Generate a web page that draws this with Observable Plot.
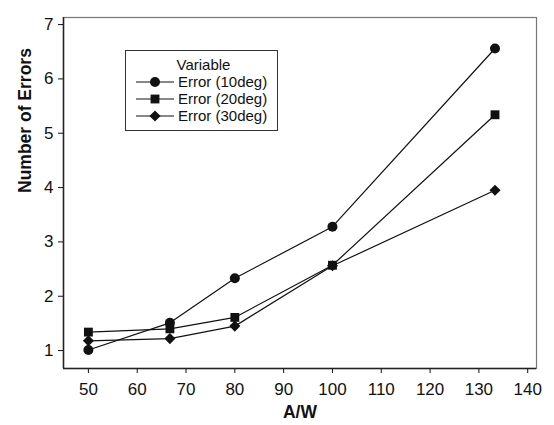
<!DOCTYPE html>
<html>
<head>
<meta charset="utf-8">
<script src="https://cdn.jsdelivr.net/npm/d3@7"></script>
<script src="https://cdn.jsdelivr.net/npm/@observablehq/plot@0.6"></script>
<style>
  body { margin: 0; background: #fff; }
  #wrap { position: relative; width: 554px; height: 425px; font-family: "Liberation Sans", Arial, sans-serif; }
  #legend { position: absolute; left: 125px; top: 50px; width: 153px; height: 81px; border: 1px solid #333; background: #fff; font-size: 15px; color: #111; box-sizing: border-box; }
  #legend .title { text-align: center; margin-top: 5px; padding-left: 4px; line-height: 17px; }
  #legend .row { display: flex; align-items: center; height: 17px; }
  #legend svg { margin-left: 10px; margin-right: 4px; }
</style>
</head>
<body>
<div id="wrap"></div>
<script>
const aw = [50, 66.7, 80, 100, 133.3];
const series = ["Error (10deg)", "Error (20deg)", "Error (30deg)"];
const err10 = [1.01, 1.51, 2.33, 3.28, 6.56];
const err20 = [1.34, 1.40, 1.61, 2.57, 5.34];
const err30 = [1.18, 1.22, 1.45, 2.56, 3.95];
const symbols = ["circle", "square", "diamond2"];
const xTicks = [50, 60, 70, 80, 90, 100, 110, 120, 130, 140];
const yTicks = [1, 2, 3, 4, 5, 6, 7];

const vals = [err10, err20, err30];
const data = [];
series.forEach((s, i) => aw.forEach((x, j) => data.push({series: s, aw: x, n: vals[i][j]})));

const chart = Plot.plot({
  width: 554,
  height: 425,
  marginLeft: 63,
  marginRight: 18,
  marginTop: 17,
  marginBottom: 57,
  style: {fontFamily: "'Liberation Sans', Arial, sans-serif", fontSize: "17px", color: "#111", background: "#fff"},
  x: {domain: [44.9, 141.8], label: null},
  y: {domain: [0.67, 7.13], label: null},
  symbol: {domain: series, range: symbols},
  marks: [
    Plot.frame({stroke: "#777", strokeWidth: 1.2}),
    Plot.axisX({ticks: xTicks, tickSize: 5, tickPadding: 9, fontSize: 17, tickFormat: "d", label: null}),
    Plot.axisY({ticks: yTicks, tickSize: 5, tickPadding: 5, fontSize: 17, tickFormat: "d", label: null}),
    Plot.ruleY([0.67], {stroke: "#222", strokeWidth: 1.5}),
    Plot.ruleX([44.9], {stroke: "#222", strokeWidth: 1.5}),
    Plot.line(data, {x: "aw", y: "n", z: "series", stroke: "#111", strokeWidth: 1.2}),
    Plot.dot(data, {x: "aw", y: "n", symbol: "series", fill: "#111", stroke: "none", r: 5}),
    Plot.text(["A/W"], {frameAnchor: "bottom", dy: 49, text: d => d, fontWeight: "bold", fontSize: 17.5}),
    Plot.text(["Number of Errors"], {frameAnchor: "left", dx: -38, rotate: -90, text: d => d, fontWeight: "bold", fontSize: 17.5})
  ]
});
const wrap = document.getElementById("wrap");
wrap.appendChild(chart);

// legend
const leg = document.createElement("div");
leg.id = "legend";
const t = document.createElement("div");
t.className = "title";
t.textContent = "Variable";
leg.appendChild(t);
series.forEach((s, i) => {
  const row = document.createElement("div");
  row.className = "row";
  const svg = d3.create("svg").attr("width", 38).attr("height", 14);
  svg.append("line").attr("x1", 0).attr("x2", 38).attr("y1", 7).attr("y2", 7).attr("stroke", "#111").attr("stroke-width", 1.2);
  const sym = {circle: d3.symbolCircle, square: d3.symbolSquare, diamond2: d3.symbolDiamond2}[symbols[i]];
  svg.append("path").attr("transform", "translate(19,7)").attr("d", d3.symbol(sym, Math.PI * 25)()).attr("fill", "#111");
  row.appendChild(svg.node());
  const lab = document.createElement("span");
  lab.textContent = s;
  row.appendChild(lab);
  leg.appendChild(row);
});
wrap.appendChild(leg);
</script>
</body>
</html>
